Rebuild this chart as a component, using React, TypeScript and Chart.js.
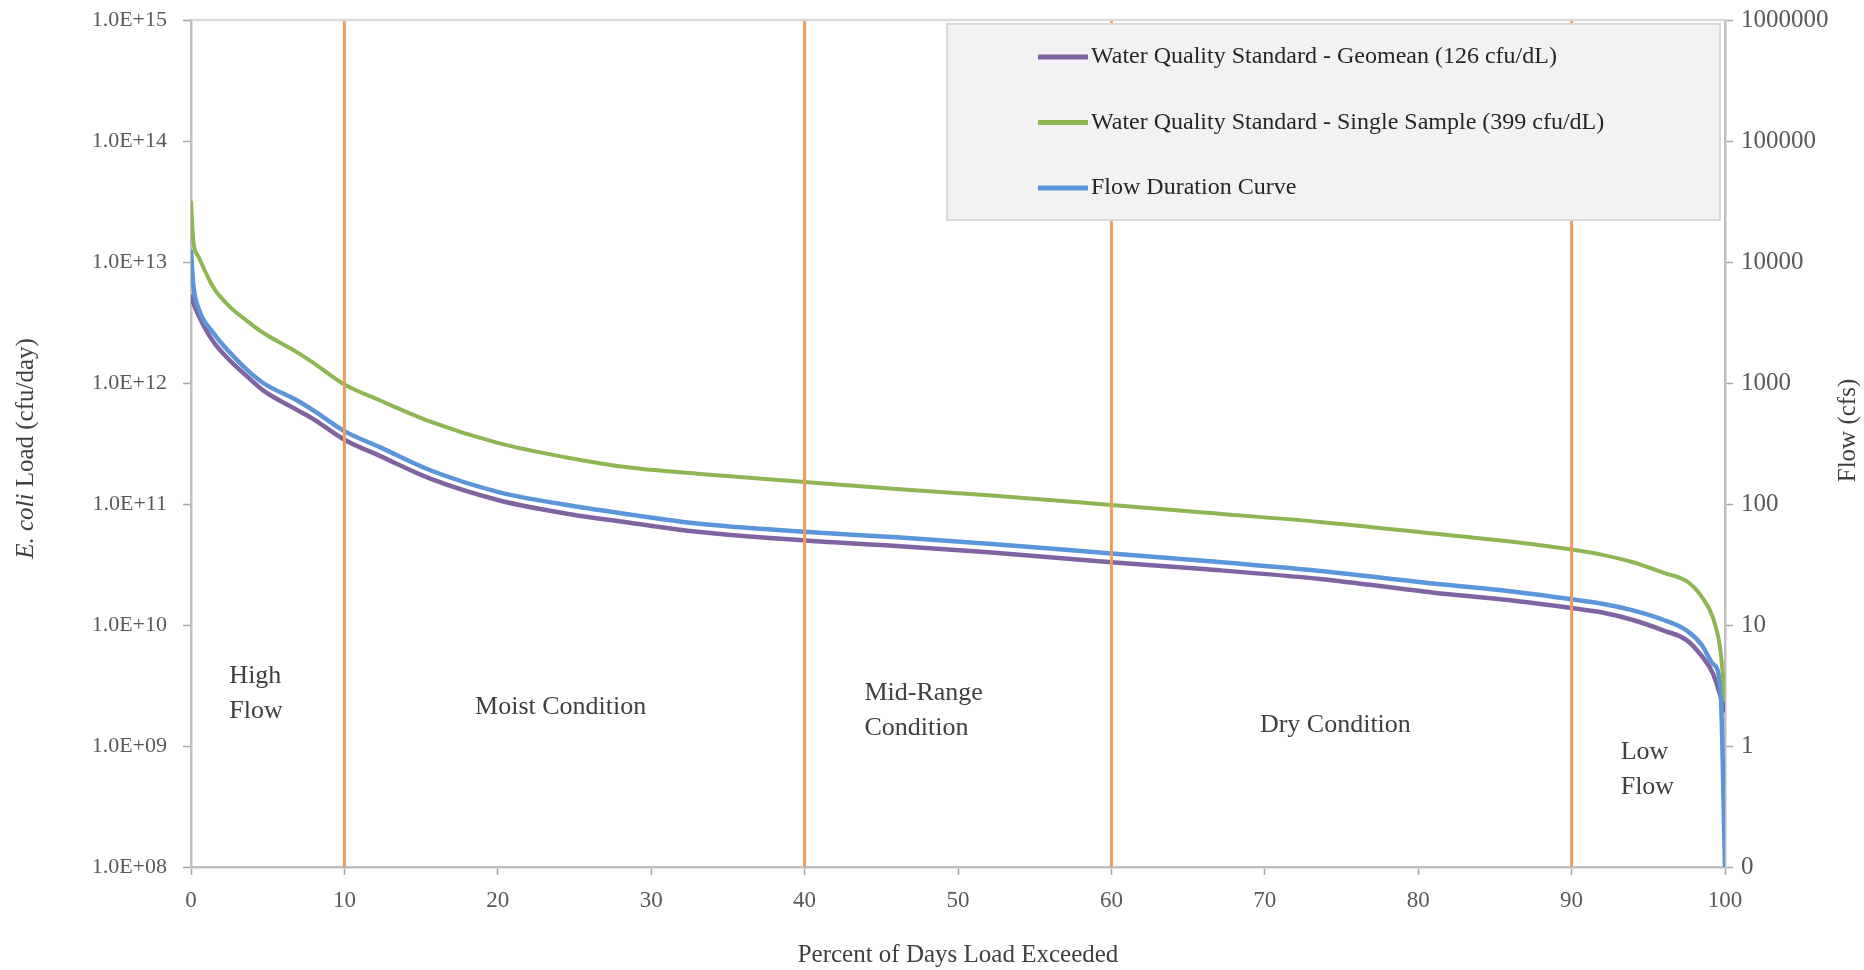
import React, { useEffect, useRef } from "react";
import { Chart, registerables } from "chart.js";

Chart.register(...registerables);

const FAMILY = "'Liberation Serif', 'Times New Roman', serif";

// ---- Data ----
const percentExceeded = [0, 0.15, 0.5, 1.45, 2.5, 3.6, 4.7, 6.9, 8.0, 10, 12.3, 15.6, 20, 24.3, 28.6, 33, 40, 46, 52, 60, 66, 73.6, 81, 86, 90, 92, 94, 96, 97.5, 98.5, 99.2, 99.7, 100];

// E. coli load, cfu/day (left axis)
const geomeanLoad = [5.4e12, 4.6e12, 3.6e12, 2.2e12, 1.55e12, 1.15e12, 8.7e11, 6.0e11, 5.0e11, 3.4e11, 2.5e11, 1.62e11, 1.08e11, 8.4e10, 7.0e10, 5.9e10, 5.0e10, 4.5e10, 4.0e10, 3.3e10, 2.9e10, 2.4e10, 1.85e10, 1.6e10, 1.38e10, 1.27e10, 1.1e10, 9.0e9, 7.5e9, 5.5e9, 4.0e9, 2.6e9, 1.9e9];
const singleSampleLoad = [3.2e13, 1.5e13, 1.1e13, 6.2e12, 4.3e12, 3.3e12, 2.6e12, 1.8e12, 1.46e12, 9.7e11, 7.2e11, 4.8e11, 3.2e11, 2.45e11, 2.0e11, 1.78e11, 1.52e11, 1.33e11, 1.18e11, 9.8e10, 8.5e10, 7.1e10, 5.7e10, 4.9e10, 4.2e10, 3.8e10, 3.3e10, 2.7e10, 2.3e10, 1.7e10, 1.16e10, 6.2e9, 2.4e9];
// Flow, cfs (right axis)
const flowCfs = [12600, 6500, 4100, 2600, 1800, 1300, 1000, 720, 590, 400, 295, 190, 126, 99, 82, 69, 59, 53, 47, 39, 34, 28, 22, 19, 16.3, 15, 13.2, 11, 9.0, 6.8, 4.8, 3.1, 0.1];

const seriesNames = [
  "Water Quality Standard - Geomean (126 cfu/dL)",
  "Water Quality Standard - Single Sample (399 cfu/dL)",
  "Flow Duration Curve",
];
const seriesColors = ["#8064A2", "#8FB654", "#5B96DB"];

const zoneBoundaries = [10, 40, 60, 90];
const zoneLabelTexts = [["High", "Flow"], ["Moist Condition"], ["Mid-Range", "Condition"], ["Dry Condition"], ["Low", "Flow"]];
const zoneLabelX = [2.5, 24.1, 43.9, 74.6, 93.2];
const zoneLabelAlign = ["left", "center", "left", "center", "left"];
const zoneLabelTopLoad = [3.8e9, 2.08e9, 2.75e9, 1.5e9, 8.9e8];

const xTicks = [0, 10, 20, 30, 40, 50, 60, 70, 80, 90, 100];
const loadTicks = [1e8, 1e9, 1e10, 1e11, 1e12, 1e13, 1e14, 1e15];
const flowTicks = [0.1, 1, 10, 100, 1000, 10000, 100000, 1000000];

const LOAD_MIN = 1e8;
const LOAD_MAX = 1e15;

const fmtLoad = (v: number) => {
  const e = Math.round(Math.log10(v));
  return "1.0E+" + (e < 10 ? "0" + e : String(e));
};
const fmtFlow = (v: number) => (v < 1 ? "0" : String(Math.round(v)));

const overlayPlugin = {
  id: "overlay",
  afterDatasetsDraw(chart: any) {
    const { ctx, chartArea, scales } = chart;
    const x = scales.x;
    const y = scales.y;
    ctx.save();
    // top border
    ctx.strokeStyle = "#D9D9D9";
    ctx.lineWidth = 2.5;
    ctx.beginPath();
    ctx.moveTo(chartArea.left, chartArea.top);
    ctx.lineTo(chartArea.right, chartArea.top);
    ctx.stroke();

    // zone labels
    ctx.fillStyle = "#404040";
    ctx.font = `26px ${FAMILY}`;
    ctx.textBaseline = "middle";
    zoneLabelTexts.forEach((lines, i) => {
      const px = x.getPixelForValue(zoneLabelX[i]);
      const py = y.getPixelForValue(zoneLabelTopLoad[i]);
      ctx.textAlign = zoneLabelAlign[i] as CanvasTextAlign;
      lines.forEach((t, j) => ctx.fillText(t, px, py + j * 35));
    });

    // legend
    const lx = 947, ly = 24, lw = 773, lh = 196;
    ctx.fillStyle = "#F2F2F2";
    ctx.fillRect(lx, ly, lw, lh);
    ctx.strokeStyle = "#D9D9D9";
    ctx.lineWidth = 2;
    ctx.strokeRect(lx, ly, lw, lh);
    ctx.font = `24px ${FAMILY}`;
    ctx.textAlign = "left";
    ctx.textBaseline = "middle";
    seriesNames.forEach((name, i) => {
      const ry = 57 + i * 65.5;
      ctx.strokeStyle = seriesColors[i];
      ctx.lineWidth = 5;
      ctx.beginPath();
      ctx.moveTo(1038, ry);
      ctx.lineTo(1088, ry);
      ctx.stroke();
      ctx.fillStyle = "#262626";
      ctx.fillText(name, 1091, ry);
    });

    // left axis title (E. coli in italics)
    const cy = (chartArea.top + chartArea.bottom) / 2 + 5;
    ctx.save();
    ctx.translate(26, cy);
    ctx.rotate(-Math.PI / 2);
    const italic = `italic 25px ${FAMILY}`;
    const normal = `25px ${FAMILY}`;
    ctx.font = italic;
    const w1 = ctx.measureText("E. coli").width;
    ctx.font = normal;
    const w2 = ctx.measureText(" Load (cfu/day)").width;
    const start = -(w1 + w2) / 2;
    ctx.fillStyle = "#404040";
    ctx.textAlign = "left";
    ctx.font = italic;
    ctx.fillText("E. coli", start, 0);
    ctx.font = normal;
    ctx.fillText(" Load (cfu/day)", start + w1, 0);
    ctx.restore();

    // right axis title (reads bottom to top)
    ctx.save();
    ctx.translate(1848, (chartArea.top + chartArea.bottom) / 2 - 13);
    ctx.rotate(-Math.PI / 2);
    ctx.font = normal;
    ctx.textAlign = "center";
    ctx.fillStyle = "#404040";
    ctx.fillText("Flow (cfs)", 0, 0);
    ctx.restore();

    ctx.restore();
  },
};

const clearPadding = (s: any) => {
  s.paddingTop = 0;
  s.paddingBottom = 0;
  s.paddingLeft = 0;
  s.paddingRight = 0;
};

export default function App() {
  const canvasRef = useRef<HTMLCanvasElement | null>(null);

  useEffect(() => {
    const canvas = canvasRef.current;
    if (!canvas) return;

    const toPoints = (vals: number[]) => percentExceeded.map((p, i) => ({ x: p, y: vals[i] }));

    const zoneDatasets = zoneBoundaries.map((b) => ({
      type: "line" as const,
      label: "zone " + b,
      data: [
        { x: b, y: LOAD_MIN },
        { x: b, y: LOAD_MAX },
      ],
      borderColor: "#EF9B5C",
      borderWidth: 3,
      pointRadius: 0,
      yAxisID: "y",
      order: 0,
    }));

    const chart = new Chart(canvas, {
      type: "line",
      data: {
        datasets: [
          ...zoneDatasets,
          {
            label: seriesNames[1],
            data: toPoints(singleSampleLoad),
            borderColor: seriesColors[1],
            borderWidth: 4,
            pointRadius: 0,
            yAxisID: "y",
            cubicInterpolationMode: "monotone",
            order: 1,
          },
          {
            label: seriesNames[2],
            data: toPoints(flowCfs),
            borderColor: seriesColors[2],
            borderWidth: 4.5,
            pointRadius: 0,
            yAxisID: "y2",
            cubicInterpolationMode: "monotone",
            order: 2,
          },
          {
            label: seriesNames[0],
            data: toPoints(geomeanLoad),
            borderColor: seriesColors[0],
            borderWidth: 4.5,
            pointRadius: 0,
            yAxisID: "y",
            cubicInterpolationMode: "monotone",
            order: 3,
          },
        ] as any,
      },
      options: {
        animation: false,
        responsive: false,
        devicePixelRatio: 1,
        layout: { padding: { top: 20, left: 0, right: 0, bottom: 0 } },
        plugins: { legend: { display: false }, tooltip: { enabled: false } },
        scales: {
          x: {
            type: "linear",
            min: 0,
            max: 100,
            afterBuildTicks: (s: any) => {
              s.ticks = xTicks.map((v) => ({ value: v }));
            },
            afterFit: (s: any) => {
              s.height = 103;
              clearPadding(s);
            },
            ticks: {
              font: { family: FAMILY, size: 23 },
              color: "#595959",
              padding: 12,
              maxRotation: 0,
              autoSkip: false,
            },
            grid: { display: true, drawOnChartArea: false, tickLength: 8, tickColor: "#A6A6A6", tickWidth: 1.5 },
            border: { display: true, color: "#BFBFBF", width: 2.5 },
            title: {
              display: true,
              text: "Percent of Days Load Exceeded",
              font: { family: FAMILY, size: 25 },
              color: "#404040",
              padding: { top: 0, bottom: 0 },
            },
          },
          y: {
            type: "logarithmic",
            position: "left",
            min: LOAD_MIN,
            max: LOAD_MAX,
            afterBuildTicks: (s: any) => {
              s.ticks = loadTicks.map((v) => ({ value: v, major: true }));
            },
            afterFit: (s: any) => {
              s.width = 191;
              clearPadding(s);
            },
            ticks: {
              callback: (v: any) => fmtLoad(Number(v)),
              font: { family: FAMILY, size: 22 },
              color: "#595959",
              padding: 16,
              autoSkip: false,
            },
            grid: { display: true, drawOnChartArea: false, tickLength: 8, tickColor: "#A6A6A6", tickWidth: 1.5 },
            border: { display: true, color: "#BFBFBF", width: 2.5 },
          },
          y2: {
            type: "logarithmic",
            position: "right",
            min: 0.1,
            max: 1000000,
            afterBuildTicks: (s: any) => {
              s.ticks = flowTicks.map((v) => ({ value: v, major: true }));
            },
            afterFit: (s: any) => {
              s.width = 139;
              clearPadding(s);
            },
            ticks: {
              callback: (v: any) => fmtFlow(Number(v)),
              font: { family: FAMILY, size: 25 },
              color: "#595959",
              padding: 8,
              autoSkip: false,
            },
            grid: { display: true, drawOnChartArea: false, tickLength: 8, tickColor: "#A6A6A6", tickWidth: 1.5 },
            border: { display: true, color: "#BFBFBF", width: 2.5 },
          },
        },
      } as any,
      plugins: [overlayPlugin],
    });

    return () => chart.destroy();
  }, []);

  return (
    <div style={{ position: "fixed", left: 0, top: 0, width: 1864, height: 970, background: "#ffffff" }}>
      <canvas ref={canvasRef} width={1864} height={970} style={{ display: "block", width: 1864, height: 970 }} />
    </div>
  );
}
